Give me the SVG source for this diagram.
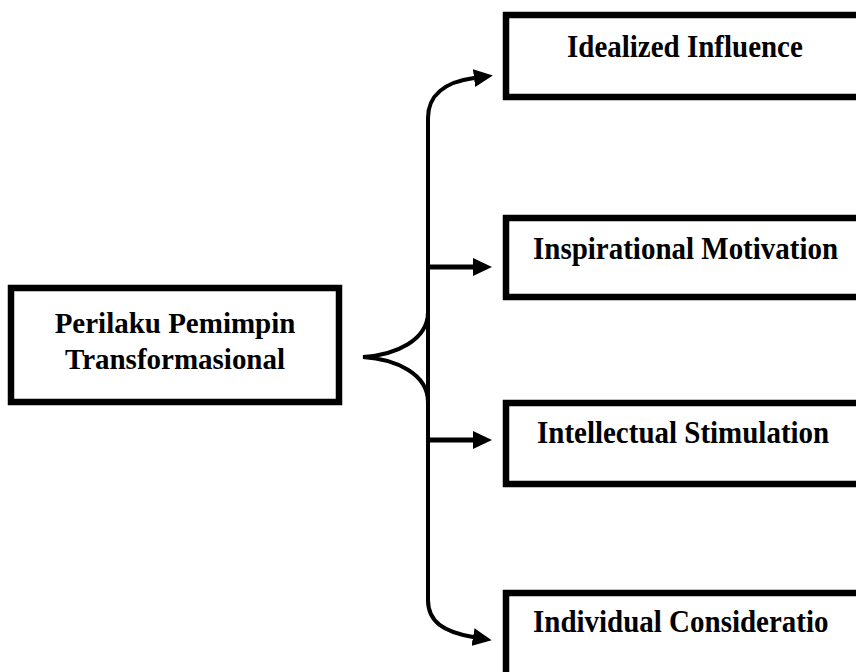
<svg xmlns="http://www.w3.org/2000/svg" width="856" height="672" viewBox="0 0 856 672">
<style>
.box{fill:#fff;stroke:#000;stroke-width:6.5}
.t{font-family:"Liberation Serif","Times New Roman",serif;font-weight:bold;font-size:29px;fill:#000}
.c{fill:none;stroke:#000;stroke-width:4;stroke-linecap:round}
.s{fill:none;stroke:#000;stroke-width:5}
</style>
<defs>
<marker id="ah" markerUnits="userSpaceOnUse" markerWidth="19" markerHeight="18" refX="0" refY="9" orient="auto" viewBox="0 0 19 18">
<path d="M0,0 L19,9 L0,18 z" fill="#000"/>
</marker>
</defs>
<rect width="856" height="672" fill="#fff"/>
<g id="connectors">
<path class="c" d="M428,560 L428,118 C428,96 444,82 474,78" marker-end="url(#ah)"/>
<path class="c" d="M428,560 L428,600 C428,622 444,632 473,637" marker-end="url(#ah)"/>
<path class="c" d="M428,300 L428,312 C428,340 396,355 363,357 C396,359 428,374 428,402 L428,420"/>
<path class="s" d="M428,267 L473,267" marker-end="url(#ah)"/>
<path class="s" d="M428,440 L473,440" marker-end="url(#ah)"/>
</g>
<g id="root">
<rect class="box" x="11" y="288" width="328" height="114"/>
<text class="t" transform="translate(175,333) scale(1,1.05)" text-anchor="middle">Perilaku Pemimpin</text>
<text class="t" transform="translate(175,369) scale(1,1.05)" text-anchor="middle">Transformasional</text>
</g>
<g id="n1">
<rect class="box" x="506" y="15" width="400" height="82"/>
<text class="t" transform="translate(567,57) scale(1,1.12)">Idealized Influence</text>
</g>
<g id="n2">
<rect class="box" x="506" y="218" width="400" height="79"/>
<text class="t" transform="translate(533,259) scale(1,1.12)">Inspirational Motivation</text>
</g>
<g id="n3">
<rect class="box" x="506" y="403" width="400" height="81"/>
<text class="t" transform="translate(537,443) scale(1,1.12)">Intellectual Stimulation</text>
</g>
<g id="n4">
<rect class="box" x="506" y="593" width="400" height="100"/>
<text class="t" transform="translate(533,632) scale(1,1.12)">Individual Consideratio</text>
</g>
</svg>
